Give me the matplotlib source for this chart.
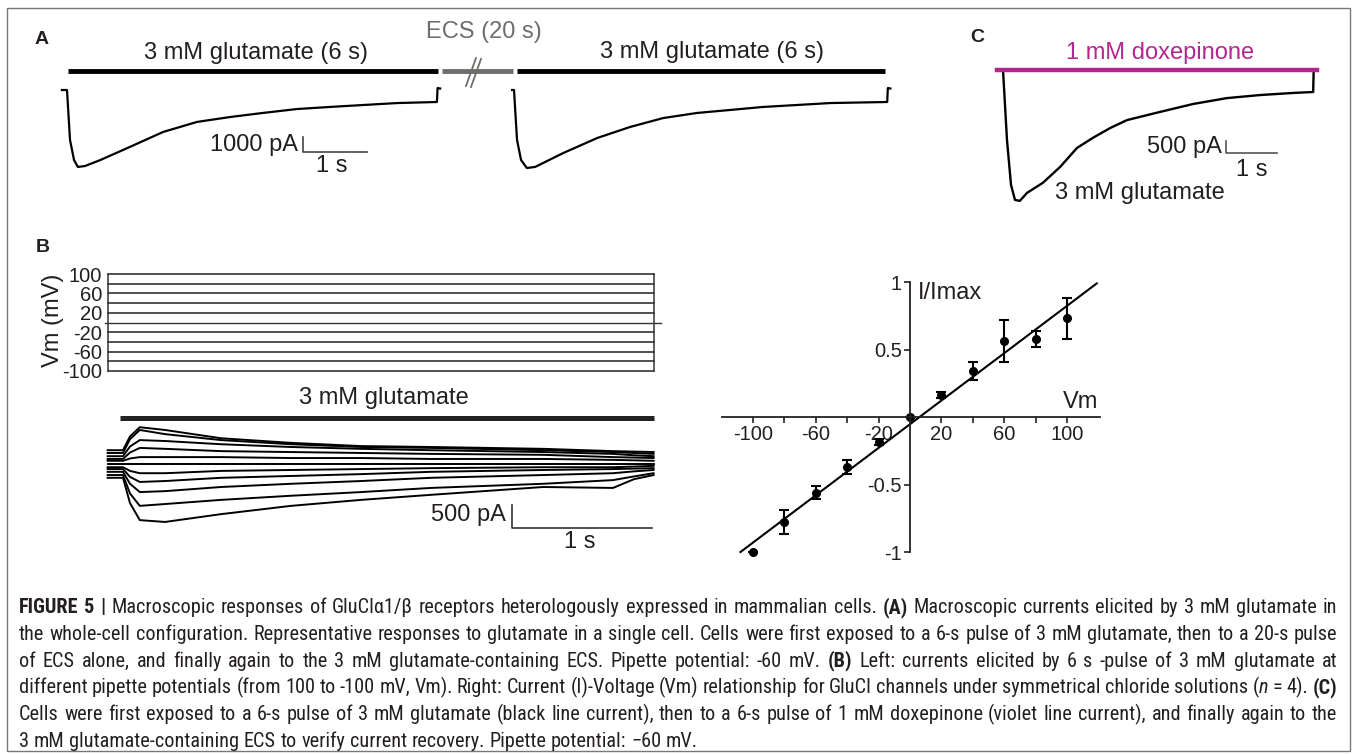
import matplotlib
matplotlib.use('Agg')
import matplotlib.pyplot as plt
from matplotlib import font_manager
from matplotlib.patches import Rectangle

W, H = 1357, 754

# ---------- data ----------
# panel A: two 3 mM glutamate applications, time (s) from onset, current (pA)
a1_t = [-0.08, 0.0, 0.047, 0.11, 0.17, 0.28, 0.52, 0.98, 1.5, 2.03, 2.55, 3.06, 3.59, 4.11, 4.63, 5.16, 5.78, 5.79, 5.83]
a1_i = [0, 0, -3330, -4670, -5130, -5070, -4670, -3800, -2800, -2130, -1800, -1530, -1270, -1130, -1000, -870, -800, 130, 100]
a2_t = [-0.03, 0.0, 0.047, 0.11, 0.2, 0.33, 0.77, 1.3, 1.81, 2.33, 2.86, 3.38, 3.89, 4.42, 4.94, 5.83, 5.84, 5.88]
a2_i = [0, 0, -3330, -4670, -5200, -5130, -4200, -3200, -2470, -1870, -1530, -1330, -1130, -1000, -870, -800, 130, 100]

# panel B left: voltage protocol and currents at each Vm
b_vm = [100, 80, 60, 40, 20, 0, -20, -40, -60, -80, -100]
prot_t = [-0.11, 3.79]
b_t = [-0.11, 0.0, 0.05, 0.12, 0.3, 0.7, 1.2, 1.7, 2.2, 3.0, 3.5, 3.65, 3.79]
b_i = [
    [300, 300, 600, 800, 740, 560, 460, 390, 370, 330, 280, 270, 260],
    [240, 240, 540, 740, 650, 520, 430, 370, 350, 300, 260, 240, 220],
    [170, 170, 380, 520, 500, 430, 370, 330, 300, 260, 220, 190, 170],
    [110, 110, 250, 350, 330, 280, 260, 240, 220, 200, 150, 140, 130],
    [70, 70, 120, 150, 150, 150, 130, 130, 110, 110, 90, 80, 70],
    [0, 0, 0, 0, 0, 0, 0, 0, 0, 0, 0, 0, 0],
    [-70, -70, -150, -200, -200, -150, -130, -110, -90, -70, -70, -55, -40],
    [-110, -110, -280, -390, -370, -300, -260, -220, -170, -130, -110, -100, -90],
    [-170, -170, -430, -610, -590, -500, -430, -370, -300, -240, -200, -160, -130],
    [-240, -240, -640, -910, -870, -780, -690, -610, -520, -430, -350, -270, -200],
    [-300, -300, -850, -1220, -1260, -1090, -910, -780, -670, -500, -520, -330, -240],
]

# panel B right: I-V relationship
iv_v = [-100, -80, -60, -40, -20, 0, 20, 40, 60, 80, 100]
iv_i = [-1.0, -0.78, -0.56, -0.37, -0.185, 0.0, 0.163, 0.34, 0.56, 0.58, 0.73]
iv_err = [0, 0.088, 0.05, 0.05, 0.02, 0, 0.02, 0.065, 0.155, 0.06, 0.15]
fit_v = [-108, 119]
fit_i = [-1.0, 0.99]

# panel C: glutamate vs doxepinone
c_glu_t = [0, 0.078, 0.157, 0.235, 0.33, 0.47, 0.78, 1.12, 1.45, 1.76, 2.1, 2.43, 3.08, 3.73, 4.39, 5.04, 5.69, 6.08, 6.09]
c_glu_i = [0, -2990, -4910, -5550, -5590, -5250, -4820, -4140, -3330, -2900, -2480, -2140, -1790, -1450, -1200, -1070, -980, -940, 0]
c_dox_t = [-0.12, 6.16]
c_dox_i = [0, 0]

caption = [
    [("FIGURE 5 |", 'b'), (" Macroscopic responses of GluCl\u03b11/\u03b2 receptors heterologously expressed in mammalian cells. ", 'n'),
     ("(A)", 'b'), (" Macroscopic currents elicited by 3 mM glutamate in", 'n')],
    [("the whole-cell configuration. Representative responses to glutamate in a single cell. Cells were first exposed to a 6-s pulse of 3 mM glutamate, then to a 20-s pulse", 'n')],
    [("of ECS alone, and finally again to the 3 mM glutamate-containing ECS. Pipette potential: -60 mV. ", 'n'), ("(B)", 'b'),
     (" Left: currents elicited by 6 s -pulse of 3 mM glutamate at", 'n')],
    [("different pipette potentials (from 100 to -100 mV, Vm). Right: Current (I)-Voltage (Vm) relationship for GluCl channels under symmetrical chloride solutions (", 'n'),
     ("n", 'i'), (" = 4). ", 'n'), ("(C)", 'b')],
    [("Cells were first exposed to a 6-s pulse of 3 mM glutamate (black line current), then to a 6-s pulse of 1 mM doxepinone (violet line current), and finally again to the", 'n')],
    [("3 mM glutamate-containing ECS to verify current recovery. Pipette potential: \u221260 mV.", 'n')],
]

############

plt.rcParams['font.family'] = ['Liberation Sans', 'DejaVu Sans']
ink = '#231f20'
grey = '#6d6e6a'
magenta = '#b3268f'
fs = 17

fig = plt.figure(figsize=(W / 100, H / 100), dpi=100)

ov = fig.add_axes([0, 0, 1, 1])
ov.set_xlim(0, W)
ov.set_ylim(H, 0)
ov.axis('off')


def px_axes(x0, y0, x1, y1):
    ax = fig.add_axes([x0 / W, 1 - y1 / H, (x1 - x0) / W, (y1 - y0) / H])
    ax.patch.set_alpha(0)
    return ax


def label(x, y, s, **kw):
    kw.setdefault('fontsize', fs)
    kw.setdefault('color', ink)
    kw.setdefault('ha', 'center')
    kw.setdefault('va', 'center')
    ov.text(x, y, s, **kw)


ov.add_patch(Rectangle((7, 8), 1343, 743, fill=False, ec='#777777', lw=1.0))

# ---------------- panel A ----------------
axA1 = px_axes(55, 60, 450, 180)
axA1.set_xlim(-0.1875, 5.984)
axA1.set_ylim(-6000, 2000)
axA1.axis('off')
axA1.plot(a1_t, a1_i, color='k', lw=1.6)
axA1.plot([0.016, 5.8], [1267, 1267], color='k', lw=3.5, solid_capstyle='butt')
axA1.plot([3.69, 3.69, 4.69], [-3130, -4130, -4130], color='#444', lw=1.2)

axA2 = px_axes(430, 60, 900, 180)
axA2.set_xlim(-1.3125, 6.03)
axA2.set_ylim(-6000, 2000)
axA2.axis('off')
axA2.plot(a2_t, a2_i, color='k', lw=1.6)
axA2.plot([0.047, 5.8], [1267, 1267], color='k', lw=3.5, solid_capstyle='butt')
axA2.plot([-1.125, -0.016], [1267, 1267], color=grey, lw=3.5, solid_capstyle='butt')

# break marks on the ECS bar
ov.plot([467, 479], [87, 58], color='white', lw=4)
ov.plot([466, 476], [86, 58], color=grey, lw=1.3)
ov.plot([471, 481], [87, 59], color=grey, lw=1.3)

label(42, 39, 'A', fontsize=14, fontweight='bold')
label(256, 53, '3 mM glutamate (6 s)')
label(712, 52, '3 mM glutamate (6 s)')
label(484, 32, 'ECS (20 s)', color=grey)
label(298, 145, '1000 pA', ha='right')
label(332, 166, '1 s')

# ---------------- panel C ----------------
axC = px_axes(990, 50, 1330, 210)
axC.set_xlim(-0.255, 6.41)
axC.set_ylim(-5980, 854)
axC.axis('off')
axC.plot(c_glu_t, c_glu_i, color='k', lw=1.7)
axC.plot(c_dox_t, c_dox_i, color=magenta, lw=3.2)
axC.plot([4.37, 4.37, 5.37], [-3050, -3550, -3550], color='#555', lw=1.2)

label(977, 37, 'C', fontsize=14, fontweight='bold')
label(1160, 53, '1 mM doxepinone', color=magenta)
label(1222, 147, '500 pA', ha='right')
label(1252, 170, '1 s')
label(1140, 193, '3 mM glutamate')

# ---------------- panel B, voltage protocol ----------------
axP = px_axes(104, 265, 665, 380)
axP.set_xlim((104 - 123) / 140, (665 - 123) / 140)
axP.set_ylim(-118.6, 118.6)
for v in b_vm:
    if v == 0:
        axP.plot([-0.13, 3.84], [v, v], color='#333', lw=1.0)
    else:
        axP.plot(prot_t, [v, v], color='#222', lw=1.1)
for t in prot_t:
    axP.plot([t, t], [b_vm[-1], b_vm[0]], color='#333', lw=1.1)
for s in axP.spines.values():
    s.set_visible(False)
axP.set_xticks([])
axP.set_yticks([100, 60, 20, -20, -60, -100])
axP.set_yticklabels(['100', '60', '20', '-20', '-60', '-100'])
axP.tick_params(axis='y', length=0, pad=1.5, labelsize=14.5, labelcolor=ink)

label(53, 320, 'Vm (mV)', rotation=90)
label(43, 248, 'B', fontsize=14, fontweight='bold')

# ---------------- panel B, current traces ----------------
axB = px_axes(100, 405, 670, 560)
axB.set_xlim((100 - 123) / 140, (670 - 123) / 140)
axB.set_ylim(-2087, 1283)
axB.axis('off')
for cur in b_i:
    axB.plot(b_t, cur, color='k', lw=1.4)
axB.plot([-0.02, 3.79], [1000, 1000], color='#222', lw=3.6, solid_capstyle='butt')
axB.plot([2.78, 2.78, 3.78], [-891, -1391, -1391], color='#333', lw=1.2)

label(384, 398, '3 mM glutamate')
label(506, 515, '500 pA', ha='right')
label(580, 542, '1 s')

# ---------------- panel B, I-V ----------------
axV = px_axes(715, 275, 1105, 560)
axV.set_xlim(-124.2, 124.2)
axV.set_ylim(-1.059, 1.052)
axV.spines['left'].set_position(('data', 0))
axV.spines['bottom'].set_position(('data', 0))
axV.spines['right'].set_visible(False)
axV.spines['top'].set_visible(False)
axV.spines['bottom'].set_bounds(-120, 121)
axV.spines['left'].set_bounds(-1.0, 1.0)
for s in ('left', 'bottom'):
    axV.spines[s].set_linewidth(1.3)
    axV.spines[s].set_color('#222')
axV.set_xticks([-100, -80, -60, -40, -20, 20, 40, 60, 80, 100])
axV.set_xticklabels(['-100', '', '-60', '', '-20', '20', '', '60', '', '100'])
axV.set_yticks([-1, -0.5, 0.5, 1])
axV.set_yticklabels(['-1', '-0.5', '0.5', '1'])
axV.tick_params(direction='out', length=4, width=1.2, color='#222', labelsize=14.5, labelcolor=ink, pad=2)
axV.plot(fit_v, fit_i, color='k', lw=1.5)
axV.errorbar(iv_v, iv_i, yerr=iv_err, fmt='o', color='k', ms=5.5, capsize=3.5, elinewidth=1.5, capthick=1.5)

label(918, 293, 'I/Imax', ha='left')
label(1098, 402, 'Vm', ha='right')

# ---------------- caption ----------------
avail = {f.name for f in font_manager.fontManager.ttflist}
cap_font = 'Liberation Sans'
for name in ['Liberation Sans Narrow', 'Roboto Condensed', 'Arial Narrow']:
    if name in avail:
        cap_font = name
        break


def split_words(segs):
    words = [[]]
    for txt, st in segs:
        parts = txt.split(' ')
        for k, p in enumerate(parts):
            if k > 0:
                words.append([])
            if p:
                words[-1].append((p, st))
    return [w for w in words if w]


renderer = fig.canvas.get_renderer()
cap_x0, cap_x1 = 19, 1337
cap_y0, cap_dy = 613, 26.8   # baseline of the first line
cap_size = 13.0

lines = []
for segs in caption:
    objs = []
    for w in split_words(segs):
        pcs = []
        for txt, st in w:
            t = ov.text(0, 0, txt, fontsize=cap_size, family=[cap_font, 'DejaVu Sans'], color=ink,
                        fontweight='bold' if st == 'b' else 'normal',
                        fontstyle='italic' if st == 'i' else 'normal', va='baseline', ha='left')
            pcs.append(t)
        objs.append(pcs)
    lines.append(objs)


def measure(objs):
    return [[t.get_window_extent(renderer).width for t in pcs] for pcs in objs]


probe = ov.text(0, 0, 'a a', fontsize=cap_size, family=[cap_font])
probe2 = ov.text(0, 0, 'aa', fontsize=cap_size, family=[cap_font])
space = probe.get_window_extent(renderer).width - probe2.get_window_extent(renderer).width
probe.remove()
probe2.remove()

# size the caption so that the longest justified line just fits
natural = []
for objs in lines[:-1]:
    ws = measure(objs)
    natural.append(sum(sum(w) for w in ws) + space * (len(ws) - 1))
scale = min((cap_x1 - cap_x0) / n for n in natural)
cap_size *= scale
space *= scale
for objs in lines:
    for pcs in objs:
        for t in pcs:
            t.set_fontsize(cap_size)

for k, objs in enumerate(lines):
    ws = measure(objs)
    total = sum(sum(w) for w in ws)
    if k < len(lines) - 1 and len(ws) > 1:
        gap = (cap_x1 - cap_x0 - total) / (len(ws) - 1)
    else:
        gap = space
    x = cap_x0
    y = cap_y0 + k * cap_dy
    for pcs, w in zip(objs, ws):
        for t, wd in zip(pcs, w):
            t.set_position((x, y))
            x += wd
        x += gap

fig.savefig('out.png', dpi=100)
